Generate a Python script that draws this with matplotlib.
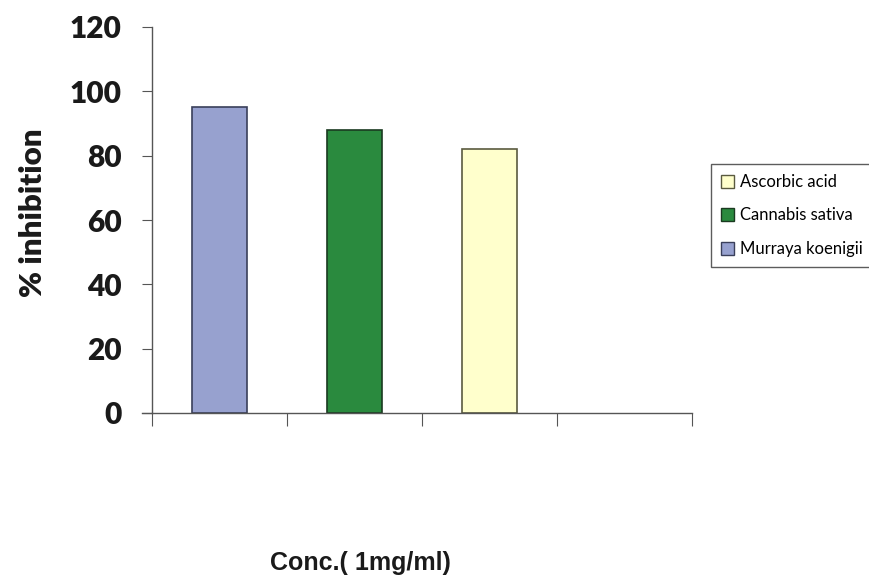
import matplotlib
matplotlib.use("Agg")
import matplotlib.pyplot as plt
from matplotlib.patches import Patch

# data
samples = ["Murraya koenigii", "Cannabis sativa", "Ascorbic acid"]
inhibition = [95, 88, 82]
colors = ["#97a1cf", "#2a8a3e", "#ffffcc"]
edges = ["#3a3f5a", "#1a3a20", "#5a5a40"]
n_slots = 4

fig = plt.figure(figsize=(8.69, 5.77), dpi=100)
ax = fig.add_axes([152 / 869, 1 - 413 / 577, 540 / 869, 386 / 577])

xpos = [i + 0.5 for i in range(len(samples))]
for x, v, c, e in zip(xpos, inhibition, colors, edges):
    ax.bar(x, v, width=0.41, color=c, edgecolor=e, linewidth=1.2)

ax.set_xlim(0, n_slots)
ax.set_ylim(0, 120)
ax.set_xticks(range(n_slots + 1))
ax.set_xticklabels([])
ax.set_yticks(range(0, 121, 20))

for s in ["top", "right"]:
    ax.spines[s].set_visible(False)
for s in ["left", "bottom"]:
    ax.spines[s].set_color("#555555")
    ax.spines[s].set_linewidth(1.0)

ax.tick_params(axis="y", direction="out", length=7, pad=15, color="#555555",
               labelsize=21.5)
ax.tick_params(axis="x", direction="out", length=9, color="#555555")
for lbl in ax.get_yticklabels():
    lbl.set_fontfamily("Lato")
    lbl.set_fontweight("heavy")
    lbl.set_color("#1a1a1a")

# short stub of the x-axis to the left of the y-axis (Excel style)
ax.plot([-0.0185, 0], [0, 0], transform=ax.transAxes, color="#555555",
        lw=1.0, clip_on=False)

ax.set_ylabel("% inhibition", fontsize=22.5, fontfamily="Lato",
              fontweight="heavy", color="#1a1a1a")
ax.yaxis.set_label_coords(-0.195, 0.52)

fig.text(360 / 869, 1 - 563 / 577, "Conc.( 1mg/ml)", ha="center", va="center",
         fontsize=18, fontfamily="Liberation Sans", fontweight="bold",
         color="#1a1a1a")

handles = [Patch(facecolor=colors[i], edgecolor=edges[i], label=samples[i])
           for i in reversed(range(len(samples)))]
leg = fig.legend(handles=handles, loc="upper left",
                 bbox_to_anchor=(711 / 869, 1 - 164 / 577),
                 frameon=True, fancybox=False, edgecolor="#333333",
                 prop={"family": "Lato", "size": 12},
                 handlelength=0.8, handleheight=0.8, handletextpad=0.35,
                 labelspacing=1.05, borderpad=0.6, borderaxespad=0)
leg.get_frame().set_linewidth(1.0)

fig.savefig("out.png", dpi=100)
